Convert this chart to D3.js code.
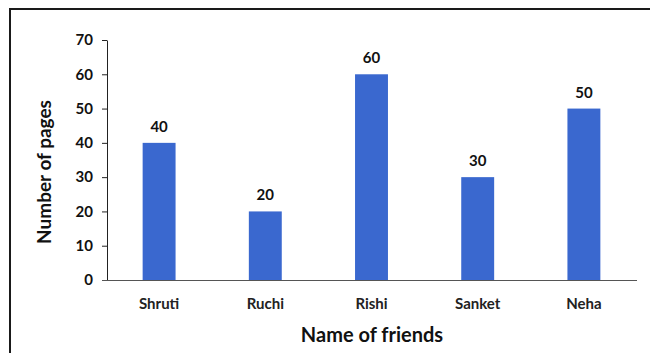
<!DOCTYPE html>
<html>
<head>
<meta charset="utf-8">
<script src="https://cdn.jsdelivr.net/npm/d3@7"></script>
<style>
  body { margin: 0; background: #fff; }
  svg { display: block; }
  text { font-family: Lato, "Open Sans", sans-serif; }
</style>
</head>
<body>
<svg id="chart" width="650" height="353"></svg>
<script>
// data
const friends = ['Shruti', 'Ruchi', 'Rishi', 'Sanket', 'Neha'];
const pages = [40, 20, 60, 30, 50];
const yTicks = [0, 10, 20, 30, 40, 50, 60, 70];

const svg = d3.select('#chart');

// outer frame (right and bottom edges run past the window)
svg.append('rect')
  .attr('x', 10).attr('y', 9)
  .attr('width', 680).attr('height', 380)
  .attr('fill', 'none')
  .attr('stroke', '#1a1a1a')
  .attr('stroke-width', 2);

const x = d3.scaleBand()
  .domain(friends)
  .range([106, 637])
  .paddingInner(0.69)
  .paddingOuter(0.345);

const y = d3.scaleLinear()
  .domain([0, 70])
  .range([280, 40]);

// bars
svg.append('g')
  .selectAll('rect')
  .data(friends)
  .join('rect')
  .attr('x', d => x(d))
  .attr('y', (d, i) => y(pages[i]))
  .attr('width', x.bandwidth())
  .attr('height', (d, i) => y(0) - y(pages[i]))
  .attr('fill', '#3a68cf');

// value labels
svg.append('g')
  .selectAll('text')
  .data(friends)
  .join('text')
  .attr('x', d => x(d) + x.bandwidth() / 2)
  .attr('y', (d, i) => y(pages[i]) - 11)
  .attr('text-anchor', 'middle')
  .attr('font-size', 15)
  .attr('font-weight', 'bold')
  .attr('fill', '#111')
  .text((d, i) => pages[i]);

// y axis
const yAxis = svg.append('g')
  .attr('transform', 'translate(107,0)')
  .call(d3.axisLeft(y).tickValues(yTicks).tickSize(5).tickPadding(9).tickSizeOuter(0));
yAxis.select('.domain').attr('stroke', '#222');
yAxis.selectAll('.tick line').attr('stroke', '#222');
yAxis.selectAll('.tick text')
  .attr('font-size', 15)
  .attr('font-weight', 'bold')
  .attr('fill', '#111')
  .style('font-family', 'Lato, sans-serif');

// x axis
const xAxis = svg.append('g')
  .attr('transform', 'translate(0,280)')
  .call(d3.axisBottom(x).tickSize(0).tickPadding(18).tickSizeOuter(0));
xAxis.select('.domain').attr('stroke', '#555').attr('d', 'M102,0.5H637');
xAxis.selectAll('.tick text')
  .attr('font-size', 15)
  .attr('font-weight', 'bold')
  .attr('fill', '#222')
  .style('font-family', 'Lato, sans-serif');

// axis titles
svg.append('text')
  .attr('x', 372).attr('y', 342)
  .attr('text-anchor', 'middle')
  .attr('font-size', 20)
  .attr('font-weight', 'bold')
  .attr('fill', '#111')
  .text('Name of friends');

svg.append('text')
  .attr('transform', 'translate(51,172) rotate(-90)')
  .attr('text-anchor', 'middle')
  .attr('font-size', 19)
  .attr('font-weight', 'bold')
  .attr('fill', '#111')
  .text('Number of pages');
</script>
</body>
</html>
